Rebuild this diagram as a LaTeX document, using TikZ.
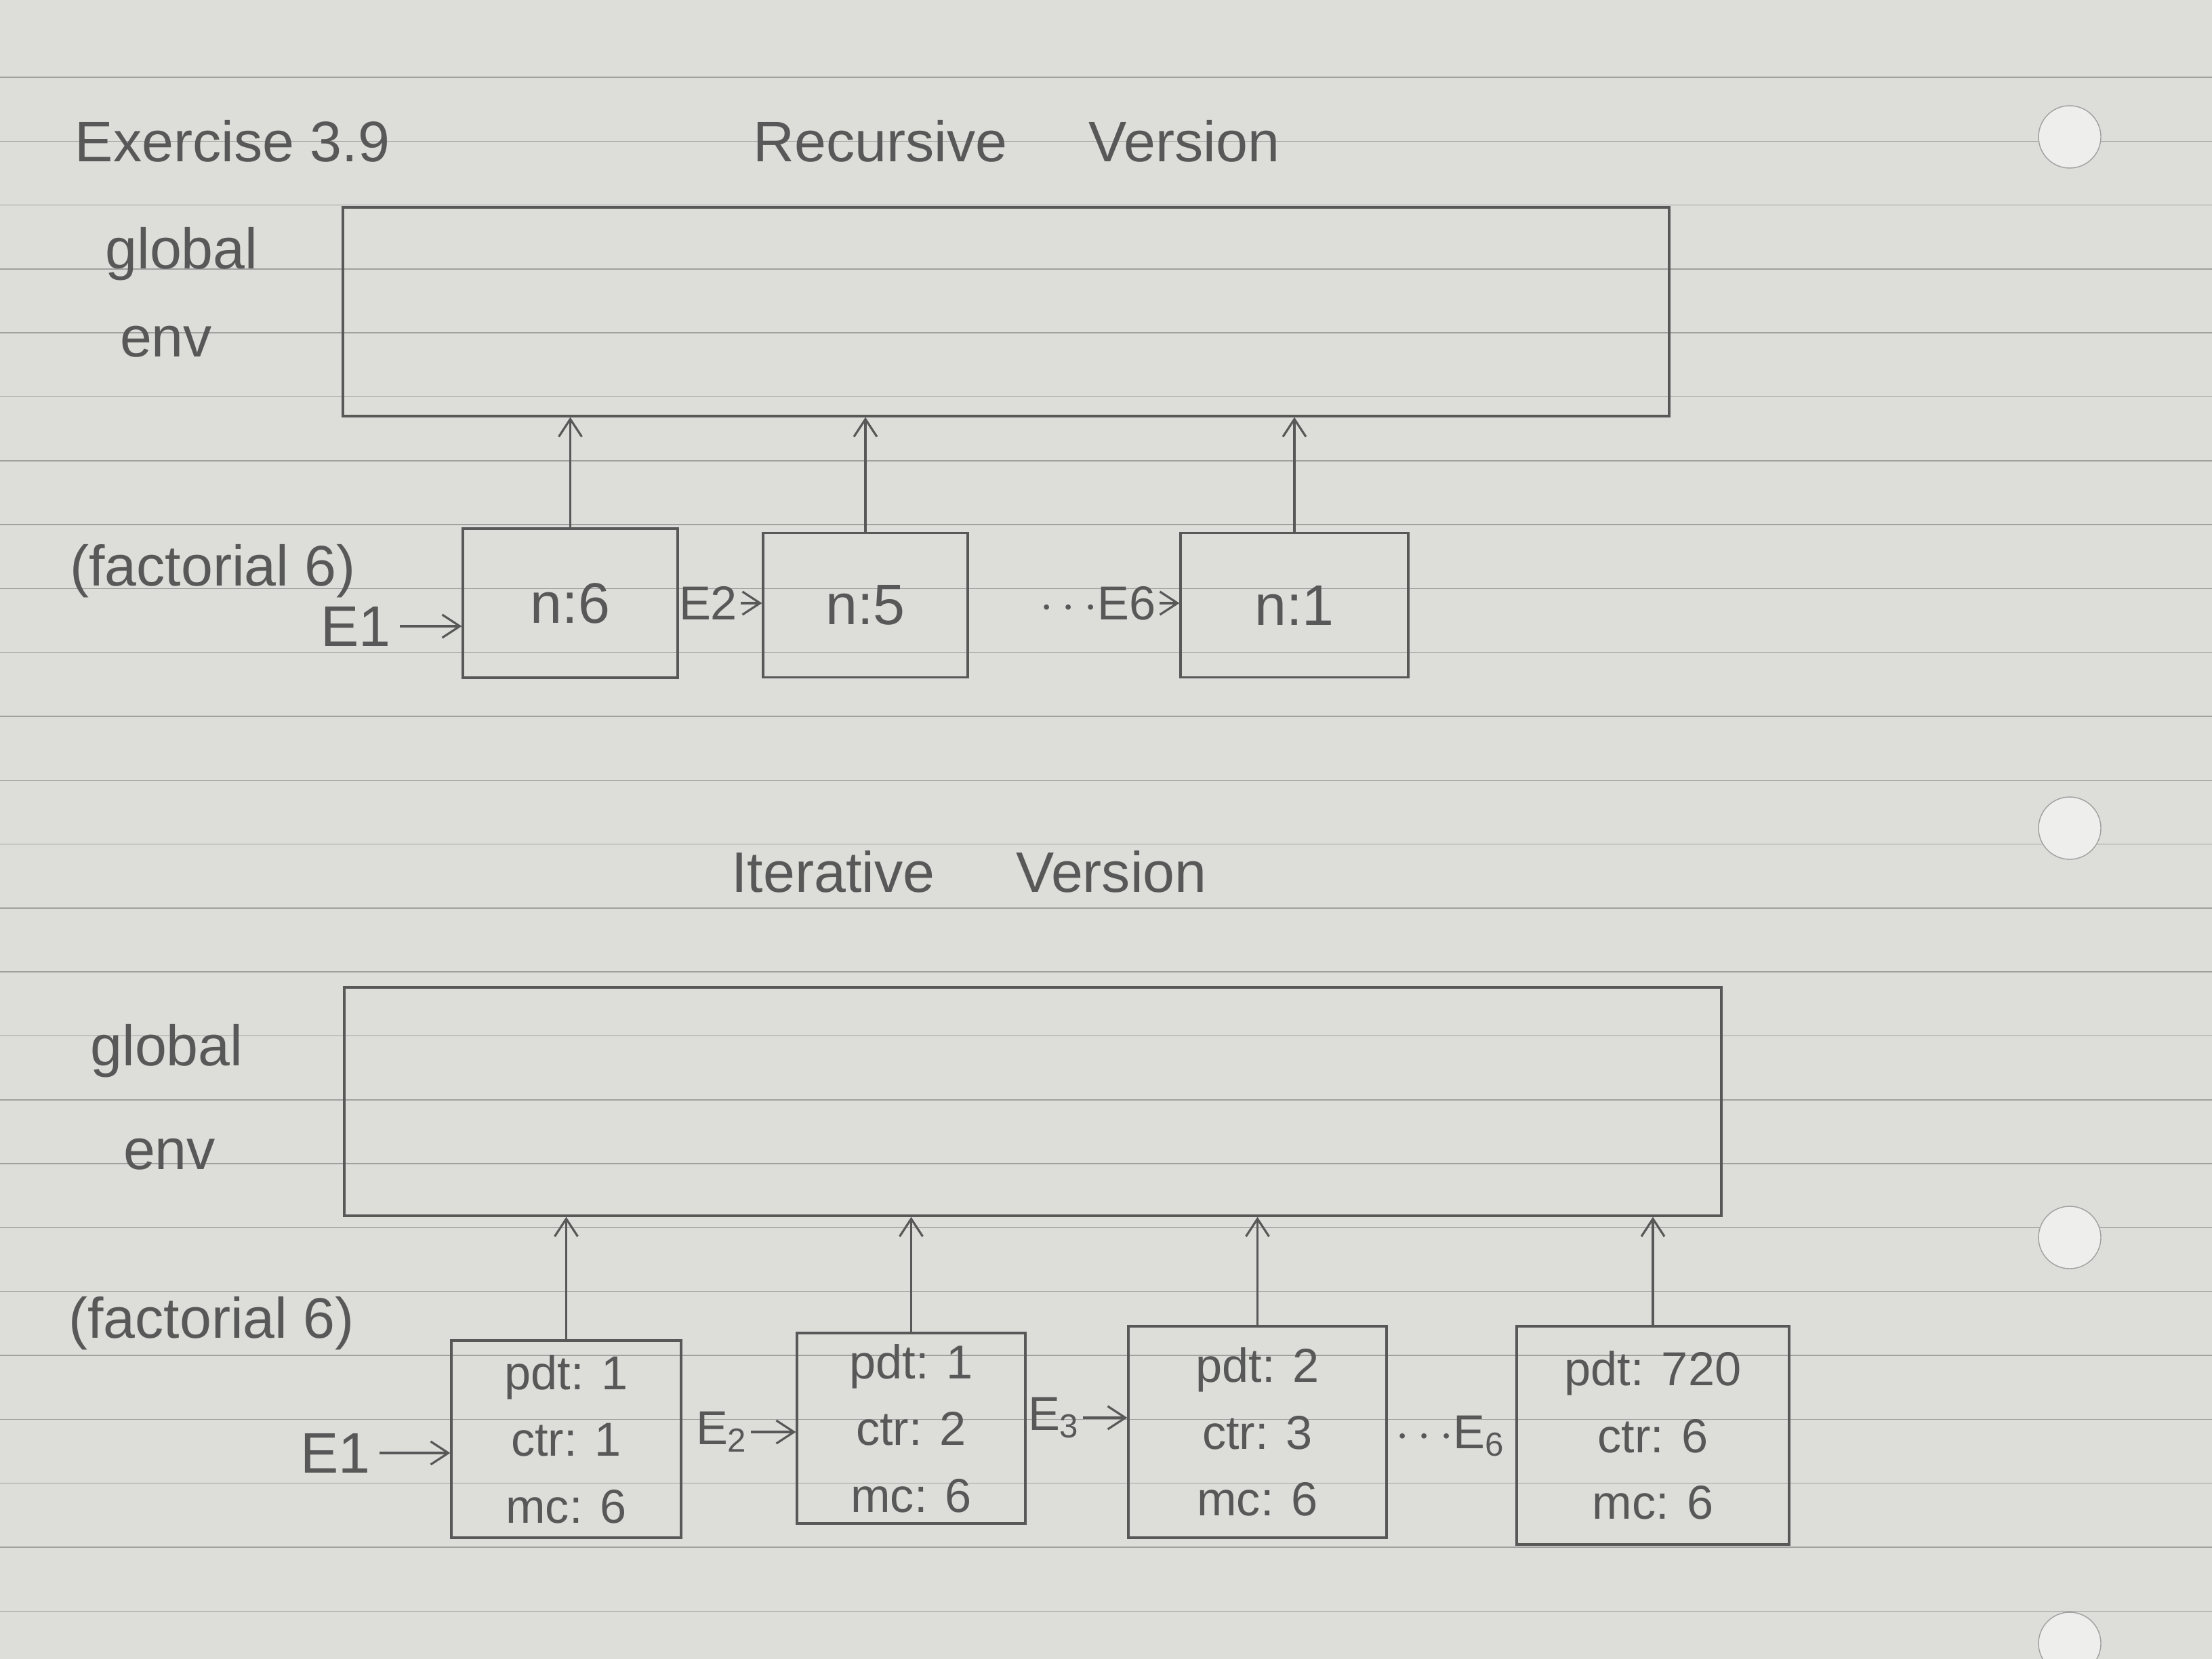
\documentclass[tikz,border=0pt]{standalone}
\usepackage{fontspec}
\setmainfont{Liberation Sans}
\usetikzlibrary{arrows.meta,positioning}

\definecolor{pencil}{RGB}{88,88,88}
\definecolor{paper}{RGB}{221,221,218}
\definecolor{rulegray}{RGB}{160,160,160}
\definecolor{hole}{RGB}{238,238,236}

\begin{document}
\begin{tikzpicture}[->,>={Straight Barb[length=2.6mm,width=3.4mm]},line width=0.9pt,draw=pencil,
                    every node/.style={text=pencil,font=\fontsize{24}{29}\selectfont}]

  \tikzstyle{frame}=[rectangle,draw=pencil,inner sep=0pt,align=center]
  \tikzstyle{envtext}=[font=\fontsize{20}{28}\selectfont]
  \tikzstyle{small}=[font=\fontsize{20}{24}\selectfont,inner sep=1pt]
  \tikzstyle{ruleline}=[-,draw=rulegray,thin]

  % the sheet
  \useasboundingbox (0,0) rectangle (32.64,-24.48);
  \clip (0,0) rectangle (32.64,-24.48);
  \fill[paper] (0,0) rectangle (32.64,-24.48);
  \foreach \k in {0,...,24}
    \draw[ruleline] (0,-1.14-0.943*\k) -- (32.64,-1.14-0.943*\k);
  \foreach \y in {-2.02,-12.22,-18.26,-24.25}
    \draw[-,thin,draw=rulegray,fill=hole] (30.54,\y) circle (0.46);

  % recursive version
  \node (title) at (3.43,-2.08) {Exercise 3.9};
  \node (rhead) at (15.0,-2.08) {Recursive\hspace{1.2cm}Version};
  \node[frame,minimum width=19.57cm,minimum height=3.08cm] (G1) at (14.845,-4.60) {};
  \node (g1a) at (2.68,-3.75) {global};
  \node (g1b) at (2.45,-5.04) {env};
  \node (fact1) at (3.14,-8.43) {(factorial 6)};

  \node[frame,minimum width=3.17cm,minimum height=2.2cm]  (R1) at (8.415,-8.90) {n:6};
  \node[frame,minimum width=3.02cm,minimum height=2.13cm] (R2) at (12.77,-8.93) {n:5};
  \node[frame,minimum width=3.36cm,minimum height=2.13cm] (R6) at (19.10,-8.93) {n:1};

  \node (e1) at (5.25,-9.24) {E1};
  \node[small] (e2) at (10.45,-8.90) {E2};
  \node[small] (e6) at (16.20,-8.90) {$\cdots$E6};

  \draw (e1) -- (R1.west |- e1);
  \draw (e2) -- (R2.west |- e2);
  \draw (e6) -- (R6.west |- e6);
  \foreach \b in {R1,R2,R6}
    \draw (\b.north) -- (\b.north |- G1.south);

  % iterative version
  \node (ihead) at (14.30,-12.86) {Iterative\hspace{1.2cm}Version};
  \node[frame,minimum width=20.32cm,minimum height=3.37cm] (G2) at (15.24,-16.255) {};
  \node (g2a) at (2.46,-15.51) {global};
  \node (g2b) at (2.50,-17.03) {env};
  \node (fact2) at (3.12,-19.53) {(factorial 6)};

  \node[frame,envtext,minimum width=3.39cm,minimum height=2.91cm] (I1) at (8.355,-21.235) {pdt: 1\\ctr: 1\\mc: 6};
  \node[frame,envtext,minimum width=3.37cm,minimum height=2.81cm] (I2) at (13.445,-21.075) {pdt: 1\\ctr: 2\\mc: 6};
  \node[frame,envtext,minimum width=3.81cm,minimum height=3.12cm] (I3) at (18.555,-21.13) {pdt: 2\\ctr: 3\\mc: 6};
  \node[frame,envtext,minimum width=4.02cm,minimum height=3.22cm] (I6) at (24.39,-21.18) {pdt: 720\\ctr: 6\\mc: 6};

  \node (f1) at (4.95,-21.44) {E1};
  \node[small] (f2) at (10.65,-21.13) {E\textsubscript{2}};
  \node[small] (f3) at (15.55,-20.92) {E\textsubscript{3}};
  \node[small] (f6) at (21.40,-21.19) {$\cdots$E\textsubscript{6}};

  \draw (f1) -- (I1.west |- f1);
  \draw (f2) -- (I2.west |- f2);
  \draw (f3) -- (I3.west |- f3);
  \foreach \b in {I1,I2,I3,I6}
    \draw (\b.north) -- (\b.north |- G2.south);
\end{tikzpicture}
\end{document}
